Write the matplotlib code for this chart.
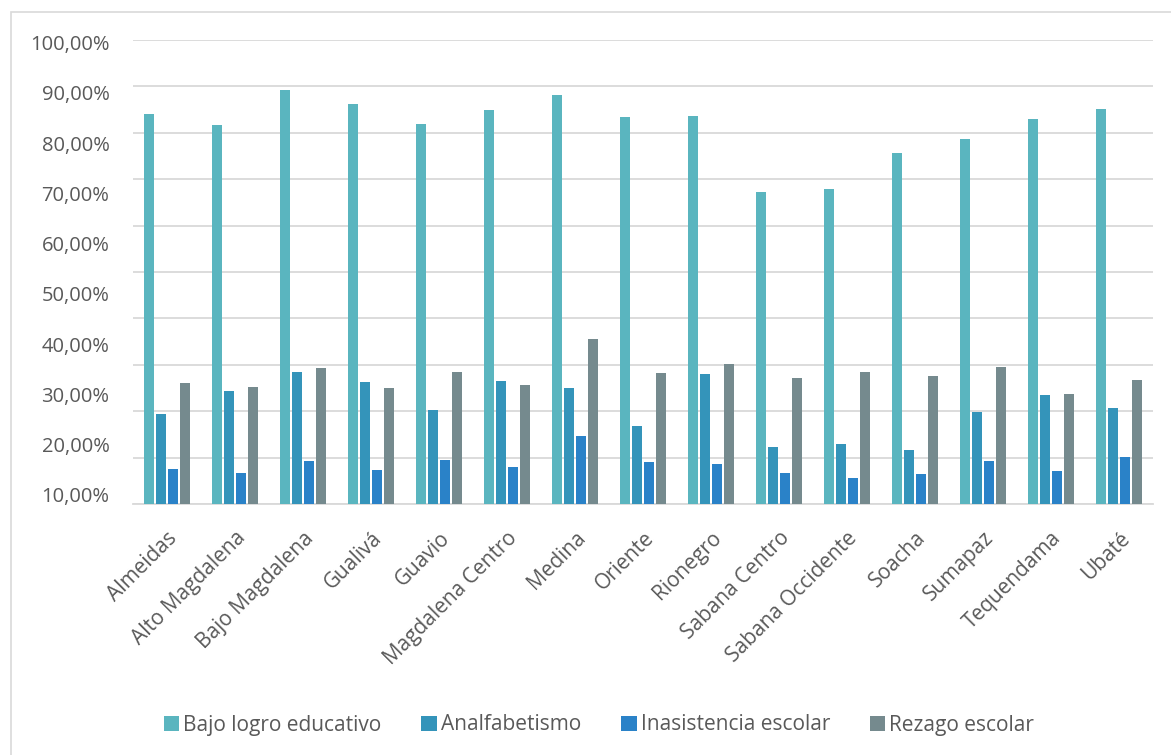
import matplotlib
matplotlib.use("Agg")
import matplotlib.pyplot as plt
import numpy as np
from matplotlib.patches import Rectangle

categories = ["Almeidas", "Alto Magdalena", "Bajo Magdalena", "Gualivá", "Guavio",
              "Magdalena Centro", "Medina", "Oriente", "Rionegro", "Sabana Centro",
              "Sabana Occidente", "Soacha", "Sumapaz", "Tequendama", "Ubaté"]
series_names = ["Bajo logro educativo", "Analfabetismo", "Inasistencia escolar", "Rezago escolar"]
bajo_logro = [84.0, 81.6, 89.2, 86.2, 82.0, 84.9, 88.1, 83.3, 83.7, 67.3, 67.8, 75.7, 78.6, 83.0, 85.1]
analfabetismo = [19.5, 24.4, 28.5, 26.4, 20.2, 26.5, 25.1, 16.9, 28.0, 12.3, 12.9, 11.7, 19.8, 23.4, 20.7]
inasistencia = [7.5, 6.6, 9.2, 7.3, 9.5, 7.9, 14.7, 9.1, 8.6, 6.6, 5.7, 6.5, 9.2, 7.2, 10.2]
rezago = [26.1, 25.2, 29.4, 25.1, 28.4, 25.6, 35.5, 28.2, 30.1, 27.2, 28.4, 27.5, 29.5, 23.6, 26.8]
ytick_labels = ["100,00%", "90,00%", "80,00%", "70,00%", "60,00%",
                "50,00%", "40,00%", "30,00%", "20,00%", "10,00%"]

colors = ["#5AB5BF", "#3494BA", "#2A82C8", "#758A8E"]
font = "Open Sans"
txtcol = "#595959"

W, H = 1171, 755
fig = plt.figure(figsize=(W / 100, H / 100), dpi=100)
fig.patches.append(Rectangle((11 / W, -0.01), 1.02, 1 - 12 / H + 0.01, transform=fig.transFigure,
                             fill=False, edgecolor="#D9D9D9", linewidth=1.2))

ax = fig.add_axes([133 / W, 1 - 504 / H, (1153 - 133) / W, (504 - 40) / H])
x = np.arange(len(categories))
data = [bajo_logro, analfabetismo, inasistencia, rezago]
step = 0.18
width = 0.145
for i, (vals, c, name) in enumerate(zip(data, colors, series_names)):
    ax.bar(x + (i - 1.5) * step, vals, width, color=c, label=name, zorder=3)

ax.set_xlim(-0.5, len(categories) - 0.5)
ax.set_ylim(0, 100)
for s in ["top", "right", "left"]:
    ax.spines[s].set_visible(False)
ax.spines["bottom"].set_color("#D9D9D9")
ax.spines["bottom"].set_linewidth(1.3)

ax.set_yticks(np.arange(0, 101, 10), minor=True)
ax.grid(axis="y", which="minor", color="#D9D9D9", linewidth=1.3, zorder=0)
ax.set_yticks(np.linspace(99.4, 2.0, len(ytick_labels)))
ax.set_yticklabels(ytick_labels, fontsize=14.5, color=txtcol, family=font)
ax.tick_params(axis="y", which="both", length=0, pad=17)

ax.set_xticks(x)
ax.set_xticklabels(categories, rotation=45, ha="right", rotation_mode="anchor",
                   fontsize=15, color=txtcol, family=font)
ax.tick_params(axis="x", length=0, pad=17)

leg = fig.legend(loc="center", bbox_to_anchor=(599 / W, 1 - 725 / H), ncol=4, frameon=False,
                 prop={"family": font, "size": 15}, handlelength=0.75, handleheight=0.75,
                 handletextpad=0.2, columnspacing=1.9)
for t in leg.get_texts():
    t.set_color(txtcol)

fig.savefig("out.png", dpi=100)
